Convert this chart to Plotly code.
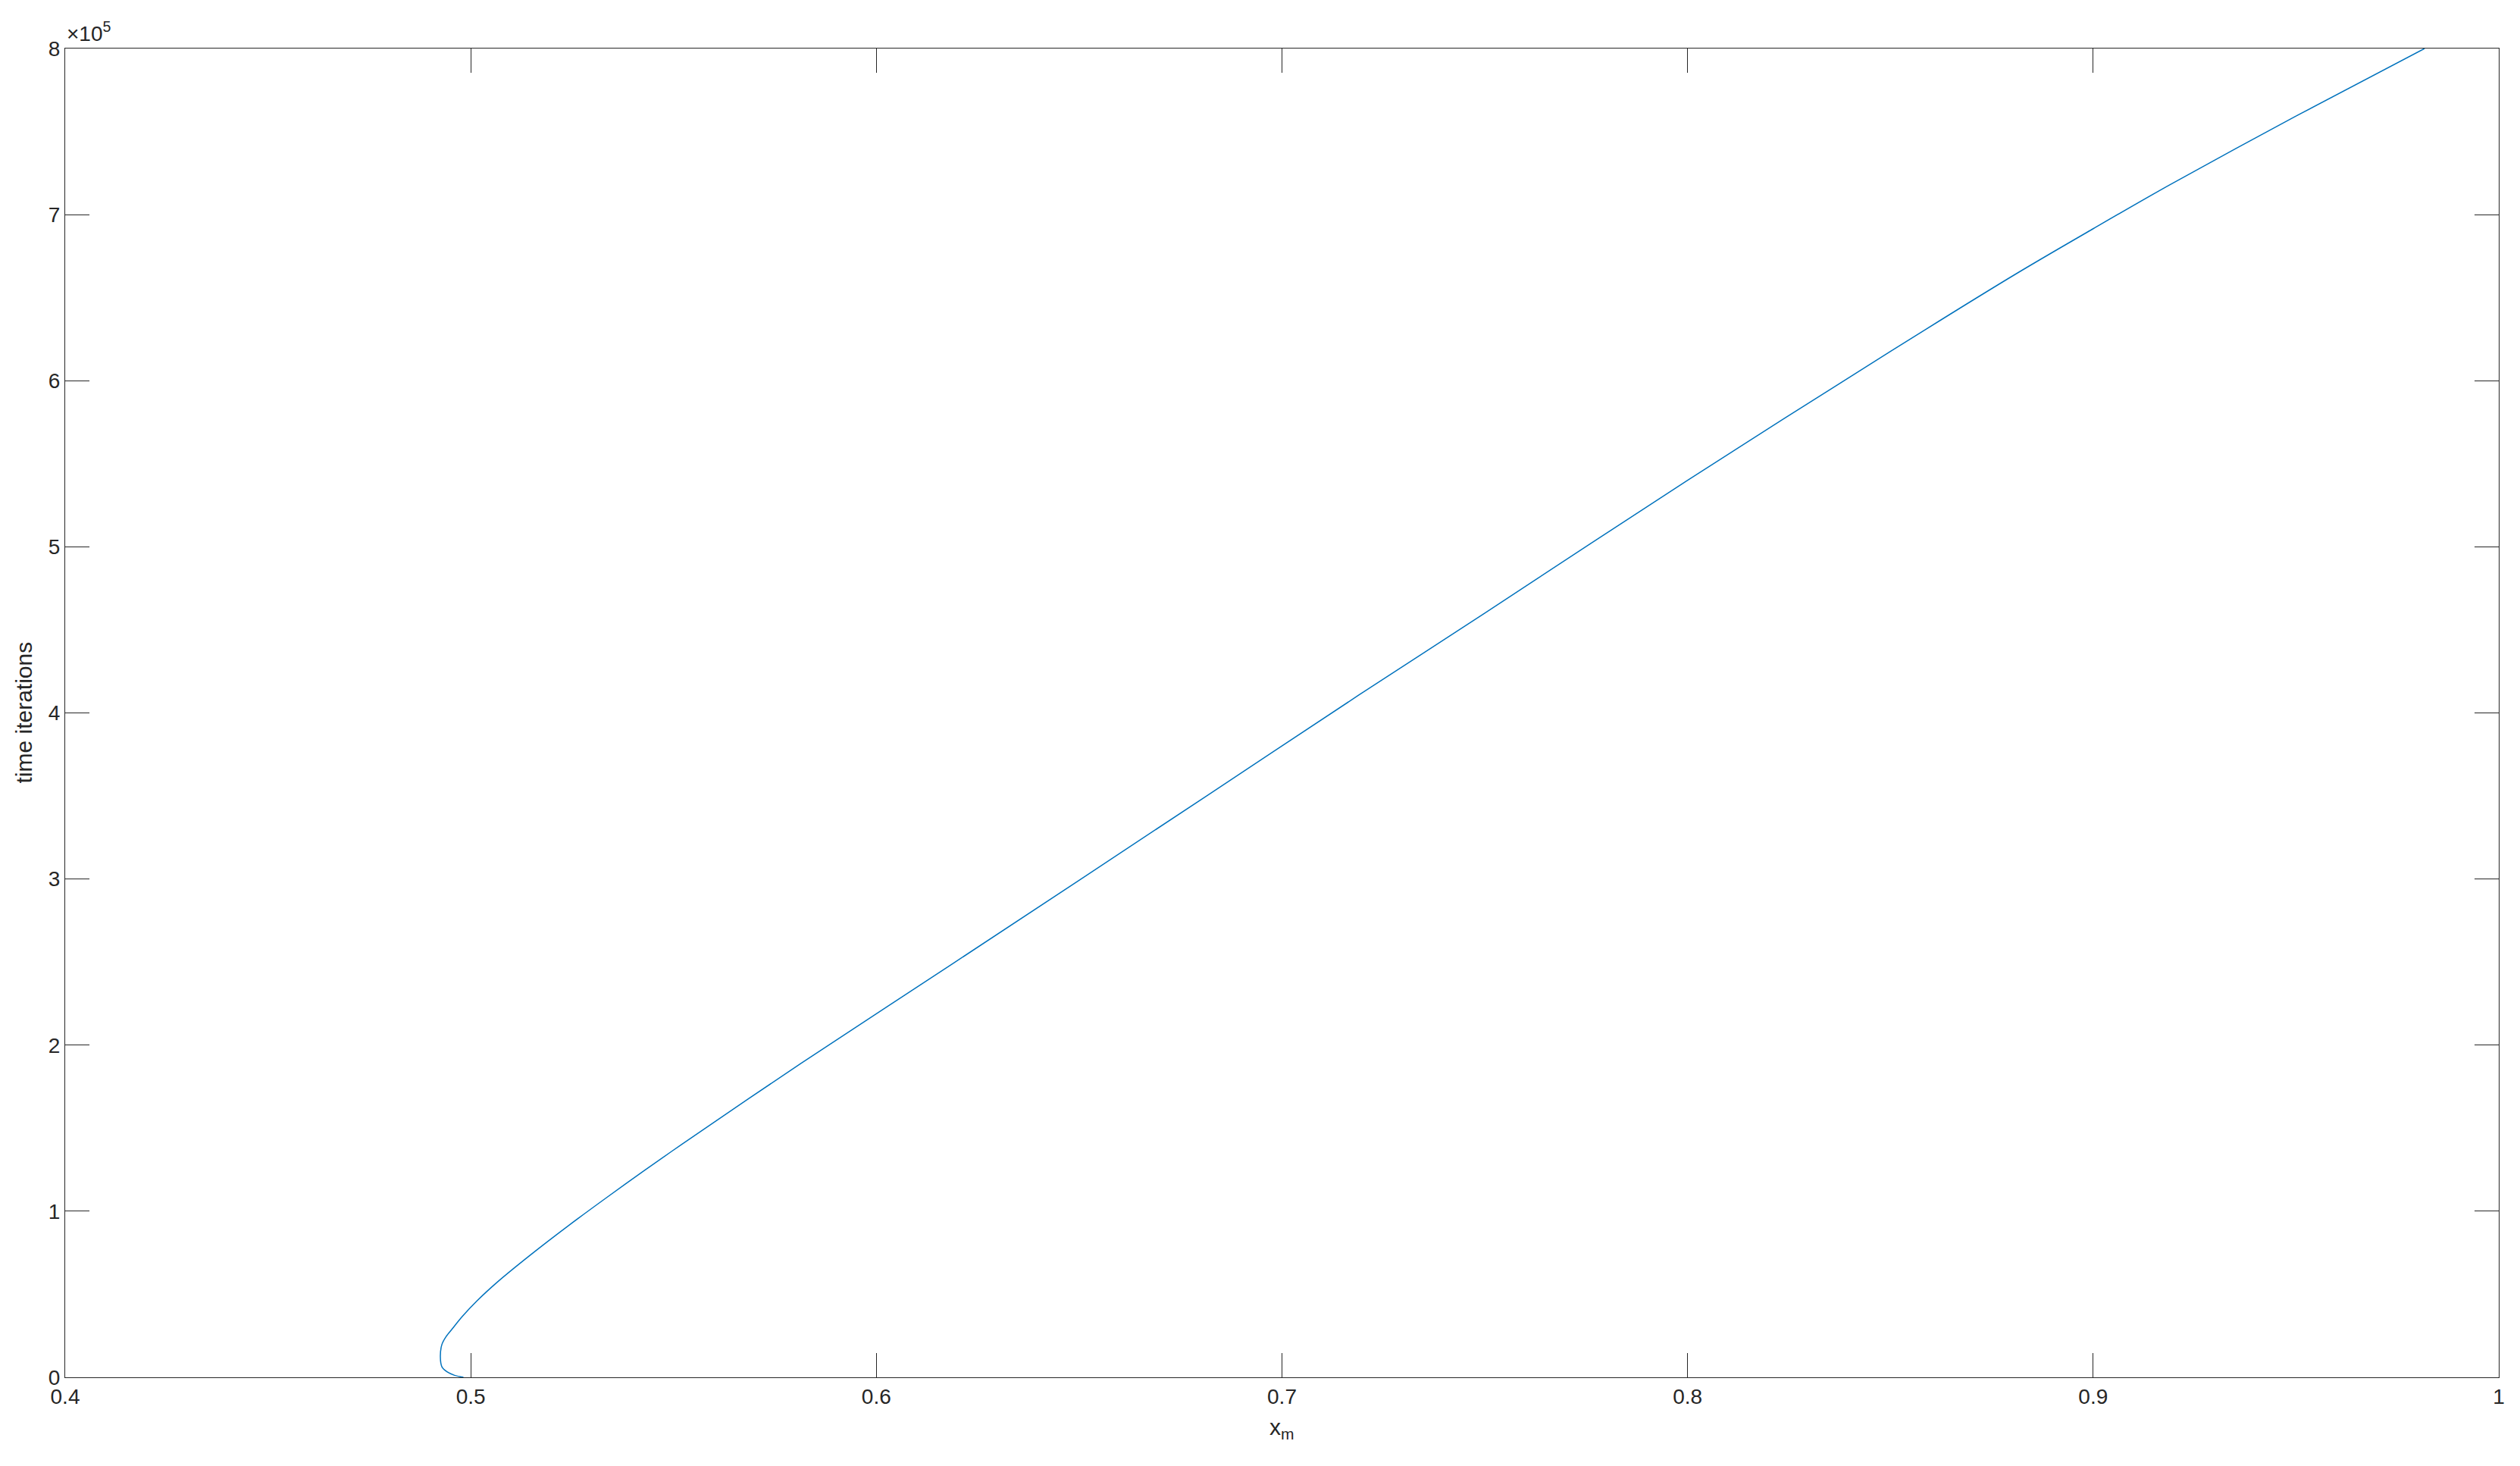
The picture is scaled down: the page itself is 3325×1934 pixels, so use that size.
import plotly.graph_objects as go

# curve (x_m vs time iterations)
x_m = [0.4982, 0.4960, 0.4942, 0.4929, 0.4925, 0.4929, 0.4939, 0.4954, 0.4979,
       0.5016, 0.5066, 0.5147, 0.5241, 0.5334, 0.5428, 0.5521, 0.5814, 0.6188,
       0.6814, 0.7188, 0.75, 0.8, 0.85, 0.8813, 0.9, 0.9187, 0.95, 0.9817]
iterations = [0, 1200, 3200, 6200, 12300, 19900, 24500, 29100, 36600,
              46200, 57450, 73650, 91350, 108050, 124500, 140400, 189000, 249000,
              350000, 410500, 460100, 540100, 617600, 664800, 691500, 717700, 759300, 800000]

x_ticks = [0.4, 0.5, 0.6, 0.7, 0.8, 0.9, 1.0]
x_tick_labels = ["0.4", "0.5", "0.6", "0.7", "0.8", "0.9", "1"]
y_ticks = [0, 1e5, 2e5, 3e5, 4e5, 5e5, 6e5, 7e5, 8e5]
y_tick_labels = ["0", "1", "2", "3", "4", "5", "6", "7", "8"]

# page body adds an 8px offset, so the figure is a little smaller than the window
W, H = 3317, 1926
L, R, T, B = 78, 28, 56, 117
plot_w = W - L - R
plot_h = H - T - B

axis_col = '#262626'
font = dict(family='Liberation Sans, Arial, Helvetica, sans-serif', size=28, color=axis_col)
title_font = dict(family='Liberation Sans, Arial, Helvetica, sans-serif', size=30, color=axis_col)

fig = go.Figure()
fig.add_trace(go.Scatter(
    x=x_m, y=iterations,
    mode='lines',
    line=dict(color='#0072BD', width=1.5, shape='spline', smoothing=0.8),
    showlegend=False,
    hoverinfo='skip'
))

axis_common = dict(
    showline=True, linecolor=axis_col, linewidth=1.2,
    mirror='ticks', ticks='inside', ticklen=32, tickwidth=1, tickcolor=axis_col,
    showgrid=False, zeroline=False, tickfont=font,
)

fig.update_layout(
    width=W, height=H,
    margin=dict(l=L, r=R, t=T, b=B),
    plot_bgcolor='white',
    paper_bgcolor='white',
    font=font,
    xaxis=dict(range=[0.4, 1.0], tickvals=x_ticks, ticktext=x_tick_labels, **axis_common),
    yaxis=dict(range=[0, 8e5], tickvals=y_ticks, ticktext=y_tick_labels, **axis_common),
)

# axis labels and exponent, placed as in the reference
fig.add_annotation(text="time iterations", xref='paper', yref='paper',
                   x=-55 / plot_w, y=0.5, textangle=-90,
                   xanchor='center', yanchor='middle', showarrow=False, font=title_font)
fig.add_annotation(text="x<sub>m</sub>", xref='paper', yref='paper',
                   x=0.5, y=-68 / plot_h, xanchor='center', yanchor='middle',
                   showarrow=False, font=title_font)
fig.add_annotation(text="×10<sup>5</sup>", xref='paper', yref='paper',
                   x=0, y=1, xanchor='left', yanchor='bottom', yshift=2,
                   showarrow=False, font=font)

fig.write_html("out.html")
